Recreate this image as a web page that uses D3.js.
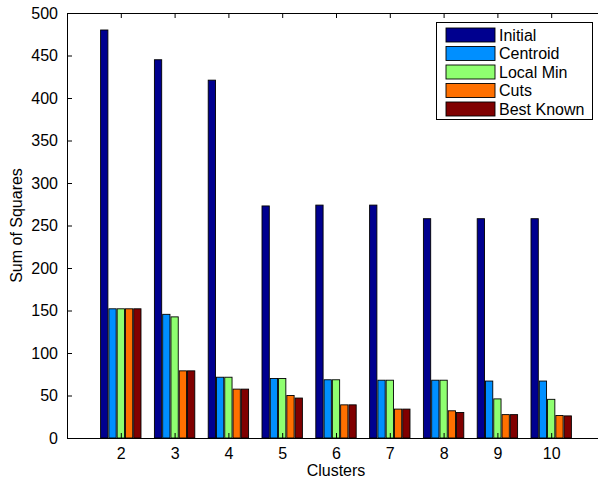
<!DOCTYPE html>
<html>
<head>
<meta charset="utf-8">
<script src="https://cdn.jsdelivr.net/npm/d3@7"></script>
<style>
  body { margin: 0; background: #fff; }
  svg { display: block; font-family: "Liberation Sans", Arial, sans-serif; }
</style>
</head>
<body>
<svg id="chart" width="598" height="479"></svg>
<script>
// data
var clusters = [2, 3, 4, 5, 6, 7, 8, 9, 10];
var seriesNames = ["Initial", "Centroid", "Local Min", "Cuts", "Best Known"];
var initial   = [480, 445, 421, 273, 274, 274, 258, 258, 258];
var centroid  = [152, 145.5, 71.5, 70, 68.5, 68, 68, 67, 67];
var localMin  = [152, 142.5, 71.5, 70, 68.5, 68, 68, 46, 45.5];
var cuts      = [152, 79, 57.5, 50, 39, 34, 32, 27.5, 26.5];
var bestKnown = [152, 79, 57.5, 47, 39, 34, 30, 27.5, 26];
var colors = ["#00008f", "#008fff", "#8fff70", "#ff7000", "#800000"];
var yTicks = d3.range(0, 501, 50);

var series = [initial, centroid, localMin, cuts, bestKnown];

var svg = d3.select("#chart");
var plotLeft = 67, plotRight = 605, plotTop = 13, plotBottom = 438;
var fontSize = 16;

var x = d3.scaleLinear().domain([1, 11]).range([plotLeft, plotRight]);
var y = d3.scaleLinear().domain([0, 500]).range([plotBottom, plotTop]);

var step = x(2) - x(1);
var groupW = step * 0.769;
var inner = d3.scaleBand()
    .domain(seriesNames)
    .range([-groupW / 2, groupW / 2])
    .paddingInner(0.12)
    .paddingOuter(0.06);

// bars
series.forEach(function(vals, si) {
    svg.append("g")
        .selectAll("rect")
        .data(vals)
        .join("rect")
        .attr("x", (d, i) => x(clusters[i]) + inner(seriesNames[si]))
        .attr("y", d => y(d))
        .attr("width", inner.bandwidth())
        .attr("height", d => y(0) - y(d))
        .attr("fill", colors[si])
        .attr("stroke", "#000")
        .attr("stroke-width", 0.9);
});

// axes
var yAxis = d3.axisLeft(y).tickValues(yTicks).tickSizeInner(-5).tickSizeOuter(0).tickPadding(9);
var gy = svg.append("g").attr("transform", `translate(${plotLeft},0)`).call(yAxis);
var xAxis = d3.axisBottom(x).tickValues(clusters).tickSizeInner(-5).tickSizeOuter(0).tickPadding(10);
var gx = svg.append("g").attr("transform", `translate(0,${plotBottom})`).call(xAxis);
var xTop = d3.axisTop(x).tickValues(clusters).tickSizeInner(-5).tickSizeOuter(0).tickFormat("");
var gt = svg.append("g").attr("transform", `translate(0,${plotTop})`).call(xTop);

[gy, gx, gt].forEach(function(g) {
    g.select(".domain").attr("stroke", "#000").attr("stroke-width", 1);
    g.selectAll(".tick line").attr("stroke", "#000");
    g.selectAll("text")
        .attr("fill", "#000")
        .style("font-size", fontSize + "px")
        .style("font-family", "'Liberation Sans', Arial, sans-serif");
});

// axis labels
svg.append("text")
    .attr("x", (plotLeft + plotRight) / 2)
    .attr("y", 476)
    .attr("text-anchor", "middle")
    .style("font-size", fontSize + "px")
    .text("Clusters");

svg.append("text")
    .attr("transform", `translate(22,${(plotTop + plotBottom) / 2}) rotate(-90)`)
    .attr("text-anchor", "middle")
    .style("font-size", fontSize + "px")
    .text("Sum of Squares");

// legend
var legend = svg.append("g");
legend.append("rect")
    .attr("x", 436.5).attr("y", 22.5)
    .attr("width", 156).attr("height", 97)
    .attr("fill", "#fff").attr("stroke", "#000");

var rowY = d3.scaleLinear().domain([0, 4]).range([35, 109]);
var items = legend.selectAll("g.item")
    .data(seriesNames)
    .join("g")
    .attr("class", "item")
    .attr("transform", (d, i) => `translate(0,${rowY(i)})`);
items.append("rect")
    .attr("x", 446).attr("y", -7)
    .attr("width", 49).attr("height", 14)
    .attr("fill", (d, i) => colors[i])
    .attr("stroke", "#000").attr("stroke-width", 0.9);
items.append("text")
    .attr("x", 499).attr("y", 0).attr("dy", "0.36em")
    .style("font-size", fontSize + "px")
    .text(d => d);
</script>
</body>
</html>
